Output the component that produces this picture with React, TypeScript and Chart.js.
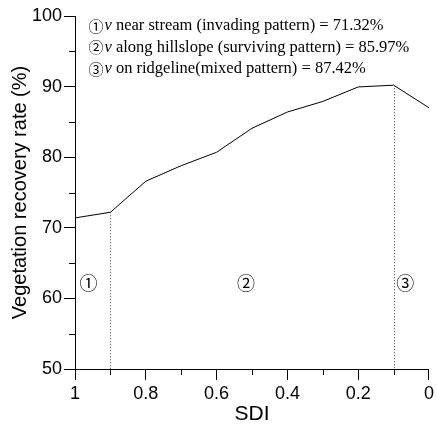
import React, { useEffect, useRef } from "react";
import { Chart, registerables } from "chart.js";

Chart.register(...registerables);

const sdi = [1, 0.9, 0.8, 0.7, 0.6, 0.5, 0.4, 0.3, 0.2, 0.1, 0];
const recovery = [71.4, 72.2, 76.6, 78.8, 80.7, 84.1, 86.4, 87.9, 89.95, 90.2, 87.0];

const yMinorTicks = [55, 65, 75, 85, 95];
const xMinorTicks = [0.9, 0.7, 0.5, 0.3, 0.1];

const dividerSdi = [0.9, 0.1];
const dividerValue = [72.2, 90.2];

const zoneLabels = ["\u2460", "\u2461", "\u2462"];
const zoneX = [0.962, 0.517, 0.067];
const zoneY = 62.1;

const noteMarks = ["\u2460", "\u2461", "\u2462"];
const noteTexts = [
  " near stream (invading pattern) = 71.32%",
  " along hillslope (surviving pattern) = 85.97%",
  " on ridgeline(mixed pattern) = 87.42%",
];
const noteY = [98.6, 95.5, 92.5];
const noteX = 0.962;

const SANS = "'Liberation Sans', Arial, sans-serif";
const SERIF = "'Liberation Serif', 'Times New Roman', serif";
const CJK = "'Noto Sans CJK JP', 'DejaVu Sans'";

const overlayPlugin = {
  id: "overlay",
  afterDraw(chart: any) {
    const ctx = chart.ctx;
    const xs = chart.scales.x;
    const ys = chart.scales.y;
    ctx.save();
    ctx.strokeStyle = "#000";
    ctx.lineWidth = 1;
    // minor ticks
    ctx.beginPath();
    yMinorTicks.forEach((v) => {
      const py = Math.round(ys.getPixelForValue(v)) + 0.5;
      ctx.moveTo(xs.left - 6, py);
      ctx.lineTo(xs.left, py);
    });
    xMinorTicks.forEach((v) => {
      const px = Math.round(xs.getPixelForValue(v)) + 0.5;
      ctx.moveTo(px, ys.bottom);
      ctx.lineTo(px, ys.bottom + 6);
    });
    ctx.stroke();
    // dotted dividers
    ctx.setLineDash([1, 2]);
    ctx.strokeStyle = "#444";
    ctx.beginPath();
    dividerSdi.forEach((v, i) => {
      const px = Math.round(xs.getPixelForValue(v)) + 0.5;
      ctx.moveTo(px, ys.getPixelForValue(dividerValue[i]));
      ctx.lineTo(px, ys.bottom);
    });
    ctx.stroke();
    ctx.setLineDash([]);
    // zone labels
    ctx.fillStyle = "#000";
    ctx.font = `18px ${CJK}`;
    ctx.textAlign = "center";
    ctx.textBaseline = "middle";
    zoneLabels.forEach((t, i) => {
      ctx.fillText(t, xs.getPixelForValue(zoneX[i]), ys.getPixelForValue(zoneY));
    });
    // notes
    ctx.textAlign = "left";
    noteTexts.forEach((t, i) => {
      let x = xs.getPixelForValue(noteX);
      const y = ys.getPixelForValue(noteY[i]);
      ctx.font = `15px ${CJK}`;
      ctx.fillText(noteMarks[i], x, y);
      x += ctx.measureText(noteMarks[i]).width + 1;
      ctx.font = `italic 16.5px ${SERIF}`;
      ctx.fillText("v", x, y);
      x += ctx.measureText("v").width;
      ctx.font = `16.5px ${SERIF}`;
      ctx.fillText(t, x, y);
    });
    ctx.restore();
  },
};

export default function App() {
  const ref = useRef<HTMLCanvasElement>(null);
  useEffect(() => {
    if (!ref.current) return;
    const chart = new Chart(ref.current, {
      type: "line",
      data: {
        datasets: [
          {
            data: sdi.map((x, i) => ({ x, y: recovery[i] })),
            borderColor: "#000",
            borderWidth: 1,
            pointRadius: 0,
            tension: 0,
            fill: false,
          },
        ],
      },
      options: {
        responsive: false,
        animation: false,
        layout: { padding: { top: 16, right: 6, left: 0, bottom: 0 } },
        plugins: { legend: { display: false }, tooltip: { enabled: false } },
        scales: {
          x: {
            type: "linear",
            min: 0,
            max: 1,
            reverse: true,
            afterFit: (s: any) => {
              s.height = 58;
            },
            border: { display: true, color: "#000", width: 1 },
            grid: { drawOnChartArea: false, drawTicks: true, tickLength: 11, color: "#000" },
            ticks: {
              stepSize: 0.2,
              padding: 3,
              color: "#000",
              font: { family: SANS, size: 18 },
              maxRotation: 0,
              callback: (v: any) => String(Number(Number(v).toFixed(1))),
            },
            title: {
              display: true,
              text: "SDI",
              color: "#000",
              font: { family: SANS, size: 21 },
              padding: { top: 0, bottom: 0 },
            },
          },
          y: {
            type: "linear",
            min: 50,
            max: 100,
            afterFit: (s: any) => {
              s.width = 75;
            },
            border: { display: true, color: "#000", width: 1 },
            grid: { drawOnChartArea: false, drawTicks: true, tickLength: 11, color: "#000" },
            ticks: {
              stepSize: 10,
              padding: 2,
              color: "#000",
              font: { family: SANS, size: 18 },
            },
            title: {
              display: true,
              text: "Vegetation recovery rate (%)",
              color: "#000",
              font: { family: SANS, size: 20 },
              padding: { top: 8, bottom: 0 },
            },
          },
        },
      },
      plugins: [overlayPlugin],
    });
    return () => chart.destroy();
  }, []);
  return (
    <div style={{ position: "absolute", left: 0, top: 0, width: 437, height: 427, background: "#fff" }}>
      <canvas ref={ref} width={437} height={427} />
    </div>
  );
}
